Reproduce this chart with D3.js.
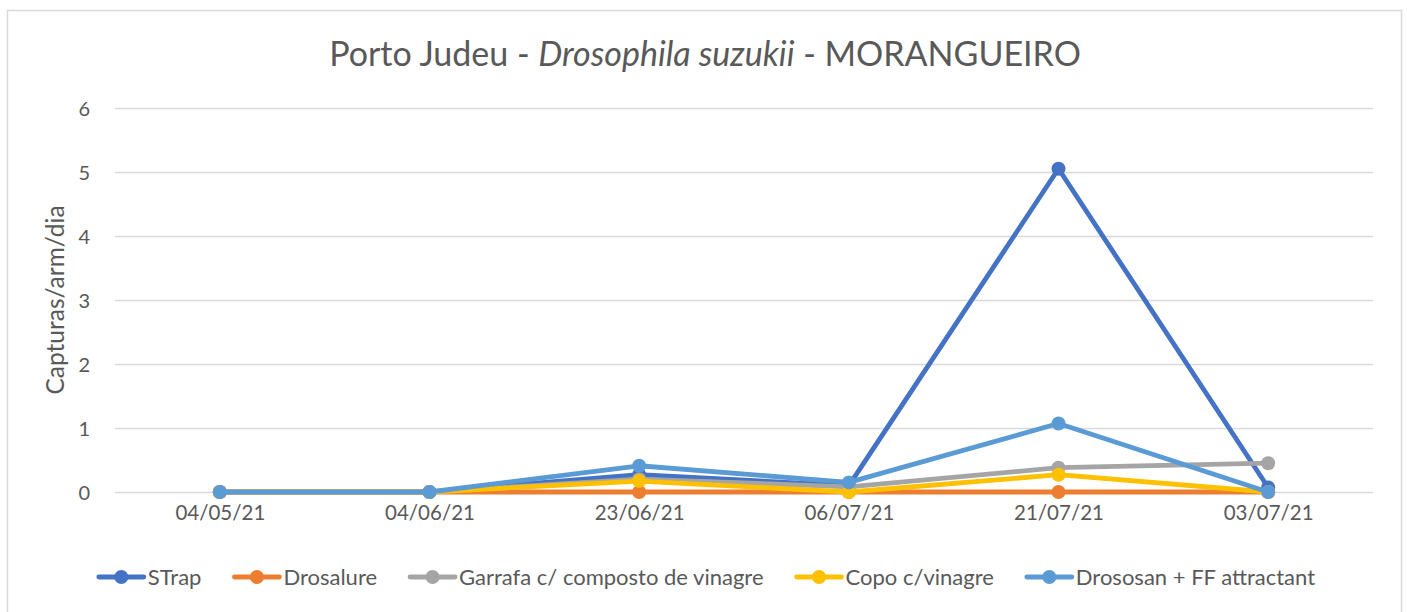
<!DOCTYPE html>
<html>
<head>
<meta charset="utf-8">
<script src="https://cdn.jsdelivr.net/npm/d3@7"></script>
<style>
	body { margin: 0; background: #fff; }
	text { font-family: Lato, "Open Sans", sans-serif; fill: #595959; }
</style>
</head>
<body>
<div id="chart"></div>
<script>
/* global d3 */
var dates = ["04/05/21", "04/06/21", "23/06/21", "06/07/21", "21/07/21", "03/07/21"];
var seriesNames = ["STrap", "Drosalure", "Garrafa c/ composto de vinagre", "Copo c/vinagre", "Drososan + FF attractant"];
var strap = [0, 0, 0.27, 0.1, 5.05, 0.07];
var drosalure = [0, 0, 0, 0, 0, 0];
var garrafa = [0, 0, 0.2, 0.08, 0.38, 0.45];
var copo = [0, 0, 0.17, 0, 0.27, 0];
var drososan = [0, 0, 0.41, 0.15, 1.07, 0];
var yTicks = [0, 1, 2, 3, 4, 5, 6];
var colors = ["#4472C4", "#ED7D31", "#A5A5A5", "#FFC000", "#5B9BD5"];

var allSeries = [strap, drosalure, garrafa, copo, drososan];

var width = 1407,
	height = 612,
	plotLeft = 115,
	plotRight = 1373,
	plotTop = 108,
	plotBottom = 492;

var svg = d3.select("#chart")
	.append("svg")
	.attr("width", width)
	.attr("height", height);

// chart frame
svg.append("rect")
	.attr("x", 7.5).attr("y", 10.5)
	.attr("width", 1394).attr("height", 620)
	.attr("fill", "none")
	.attr("stroke", "#d9d9d9")
	.attr("stroke-width", 1.5);

var x = d3.scalePoint()
	.domain(dates)
	.range([plotLeft, plotRight])
	.padding(0.5);

var y = d3.scaleLinear()
	.domain([0, 6])
	.range([plotBottom, plotTop]);

// gridlines
var grid = svg.append("g")
	.attr("transform", "translate(" + plotLeft + ",0)")
	.call(d3.axisLeft(y).tickValues(yTicks).tickSize(-(plotRight - plotLeft)).tickFormat(""));
grid.select(".domain").remove();
grid.selectAll("line").attr("stroke", "#d9d9d9").attr("stroke-width", 1.3);

// y tick labels
var yAxis = svg.append("g")
	.attr("transform", "translate(" + (plotLeft - 22) + ",0)")
	.call(d3.axisLeft(y).tickValues(yTicks).tickSize(0).tickFormat(d3.format("d")));
yAxis.select(".domain").remove();
yAxis.selectAll("text")
	.style("font-size", "20px")
	.attr("fill", "#595959")
	.attr("dy", "0.35em");

// x tick labels
var xAxis = svg.append("g")
	.attr("transform", "translate(0," + plotBottom + ")")
	.call(d3.axisBottom(x).tickSize(0).tickPadding(13));
xAxis.select(".domain").remove();
xAxis.selectAll("text")
	.style("font-size", "20.5px")
	.attr("fill", "#595959");

// y axis title
svg.append("text")
	.attr("transform", "translate(64," + 300 + ") rotate(-90)")
	.attr("text-anchor", "middle")
	.style("font-size", "24.5px")
	.text("Capturas/arm/dia");

// title
var title = svg.append("text")
	.attr("x", 705)
	.attr("y", 66)
	.attr("text-anchor", "middle")
	.style("font-size", "34px");
title.append("tspan").text("Porto Judeu - ");
title.append("tspan").style("font-style", "italic").text("Drosophila suzukii");
title.append("tspan").text(" - MORANGUEIRO");

// lines and markers
var line = d3.line()
	.x(function(d, i) { return x(dates[i]); })
	.y(function(d) { return y(d); });

allSeries.forEach(function(values, s) {
	var g = svg.append("g");
	g.append("path")
		.datum(values)
		.attr("d", line)
		.attr("fill", "none")
		.attr("stroke", colors[s])
		.attr("stroke-width", 4.8)
		.attr("stroke-linejoin", "round")
		.attr("stroke-linecap", "round");
	g.selectAll("circle")
		.data(values)
		.enter().append("circle")
		.attr("cx", function(d, i) { return x(dates[i]); })
		.attr("cy", function(d) { return y(d); })
		.attr("r", 7)
		.attr("fill", colors[s]);
});

// legend
var legend = svg.append("g");
var items = legend.selectAll("g")
	.data(seriesNames)
	.enter().append("g");
items.append("line")
	.attr("x1", 0).attr("x2", 45)
	.attr("y1", 0).attr("y2", 0)
	.attr("stroke", function(d, i) { return colors[i]; })
	.attr("stroke-width", 4.8)
	.attr("stroke-linecap", "round");
items.append("circle")
	.attr("cx", 22.5).attr("cy", 0).attr("r", 7)
	.attr("fill", function(d, i) { return colors[i]; });
items.append("text")
	.attr("x", 49)
	.attr("dy", "0.35em")
	.style("font-size", "22px")
	.text(function(d) { return d; });

var offset = 0, widths = [];
items.each(function() {
	widths.push(this.getBBox().width);
});
var gap = 33;
var total = d3.sum(widths) + gap * (widths.length - 1);
offset = 707 - total / 2;
items.attr("transform", function(d, i) {
	var t = "translate(" + offset + ",577)";
	offset += widths[i] + gap;
	return t;
});
</script>
</body>
</html>
